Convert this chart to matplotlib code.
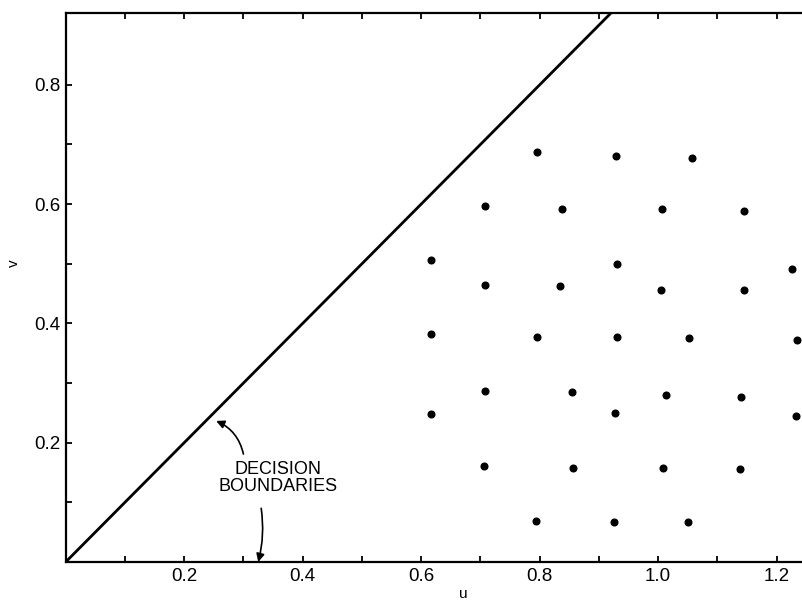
import numpy as np
from matplotlib import pyplot as plt

# sample points (u, v)
u_pts = [0.795, 0.929, 1.057,
         0.708, 0.837, 1.007, 1.145,
         0.616, 0.931, 1.226,
         0.708, 0.835, 1.004, 1.145,
         0.616, 0.796, 0.930, 1.052, 1.234,
         0.707, 0.855, 1.013, 1.140,
         0.616, 0.928, 1.232,
         0.706, 0.856, 1.009, 1.139,
         0.793, 0.926, 1.051]
v_pts = [0.688, 0.681, 0.677,
         0.597, 0.592, 0.591, 0.589,
         0.506, 0.500, 0.492,
         0.464, 0.463, 0.456, 0.456,
         0.383, 0.378, 0.378, 0.376, 0.373,
         0.287, 0.285, 0.280, 0.277,
         0.248, 0.250, 0.244,
         0.161, 0.158, 0.158, 0.156,
         0.069, 0.067, 0.067]

# decision boundary v = u
boundary_u = [0.0, 0.92]
boundary_v = [0.0, 0.92]

x_ticks = [0.1, 0.2, 0.3, 0.4, 0.5, 0.6, 0.7, 0.8, 0.9, 1.0, 1.1, 1.2]
x_labels = ['', '0.2', '', '0.4', '', '0.6', '', '0.8', '', '1.0', '', '1.2']
y_ticks = [0.1, 0.2, 0.3, 0.4, 0.5, 0.6, 0.7, 0.8]
y_labels = ['', '0.2', '', '0.4', '', '0.6', '', '0.8']

plt.rcParams['font.family'] = ['Liberation Sans', 'DejaVu Sans']

fig = plt.figure(figsize=(8.03, 6.03), dpi=100)
ax = fig.add_axes([0.0818, 0.068, 0.9182, 0.910])

ax.plot(boundary_u, boundary_v, color='black', linewidth=2.0, solid_capstyle='butt')
ax.plot(u_pts, v_pts, 'o', color='black', markersize=4.8, linestyle='none')

ax.set_xlim(0, 1.2445)
ax.set_ylim(0, 0.92)

ax.set_xticks(x_ticks)
ax.set_xticklabels(x_labels)
ax.set_yticks(y_ticks)
ax.set_yticklabels(y_labels)
ax.tick_params(direction='in', length=4, width=1.3, labelsize=13.5, pad=4,
               top=True, right=False)

for side in ['left', 'bottom', 'top']:
    ax.spines[side].set_linewidth(1.6)
ax.spines['right'].set_visible(False)

ax.set_ylabel('v', fontsize=11)
ax.yaxis.set_label_coords(-0.061, 0.545)
ax.set_xlabel('u', fontsize=11)
ax.xaxis.set_label_coords(0.539, -0.045)

ax.text(0.359, 0.141, 'DECISION\nBOUNDARIES', ha='center', va='center',
        fontsize=13, linespacing=1.0)
ax.annotate('', xy=(0.254, 0.2365), xytext=(0.300, 0.181),
            arrowprops=dict(arrowstyle='-|>', color='black', lw=1.2,
                            mutation_scale=12, shrinkA=0, shrinkB=0,
                            connectionstyle='arc3,rad=0.25'))
ax.annotate('', xy=(0.325, 0.0), xytext=(0.330, 0.090),
            arrowprops=dict(arrowstyle='-|>', color='black', lw=1.2,
                            mutation_scale=12, shrinkA=0, shrinkB=0,
                            connectionstyle='arc3,rad=-0.1'))

fig.savefig('out.png', dpi=100)
